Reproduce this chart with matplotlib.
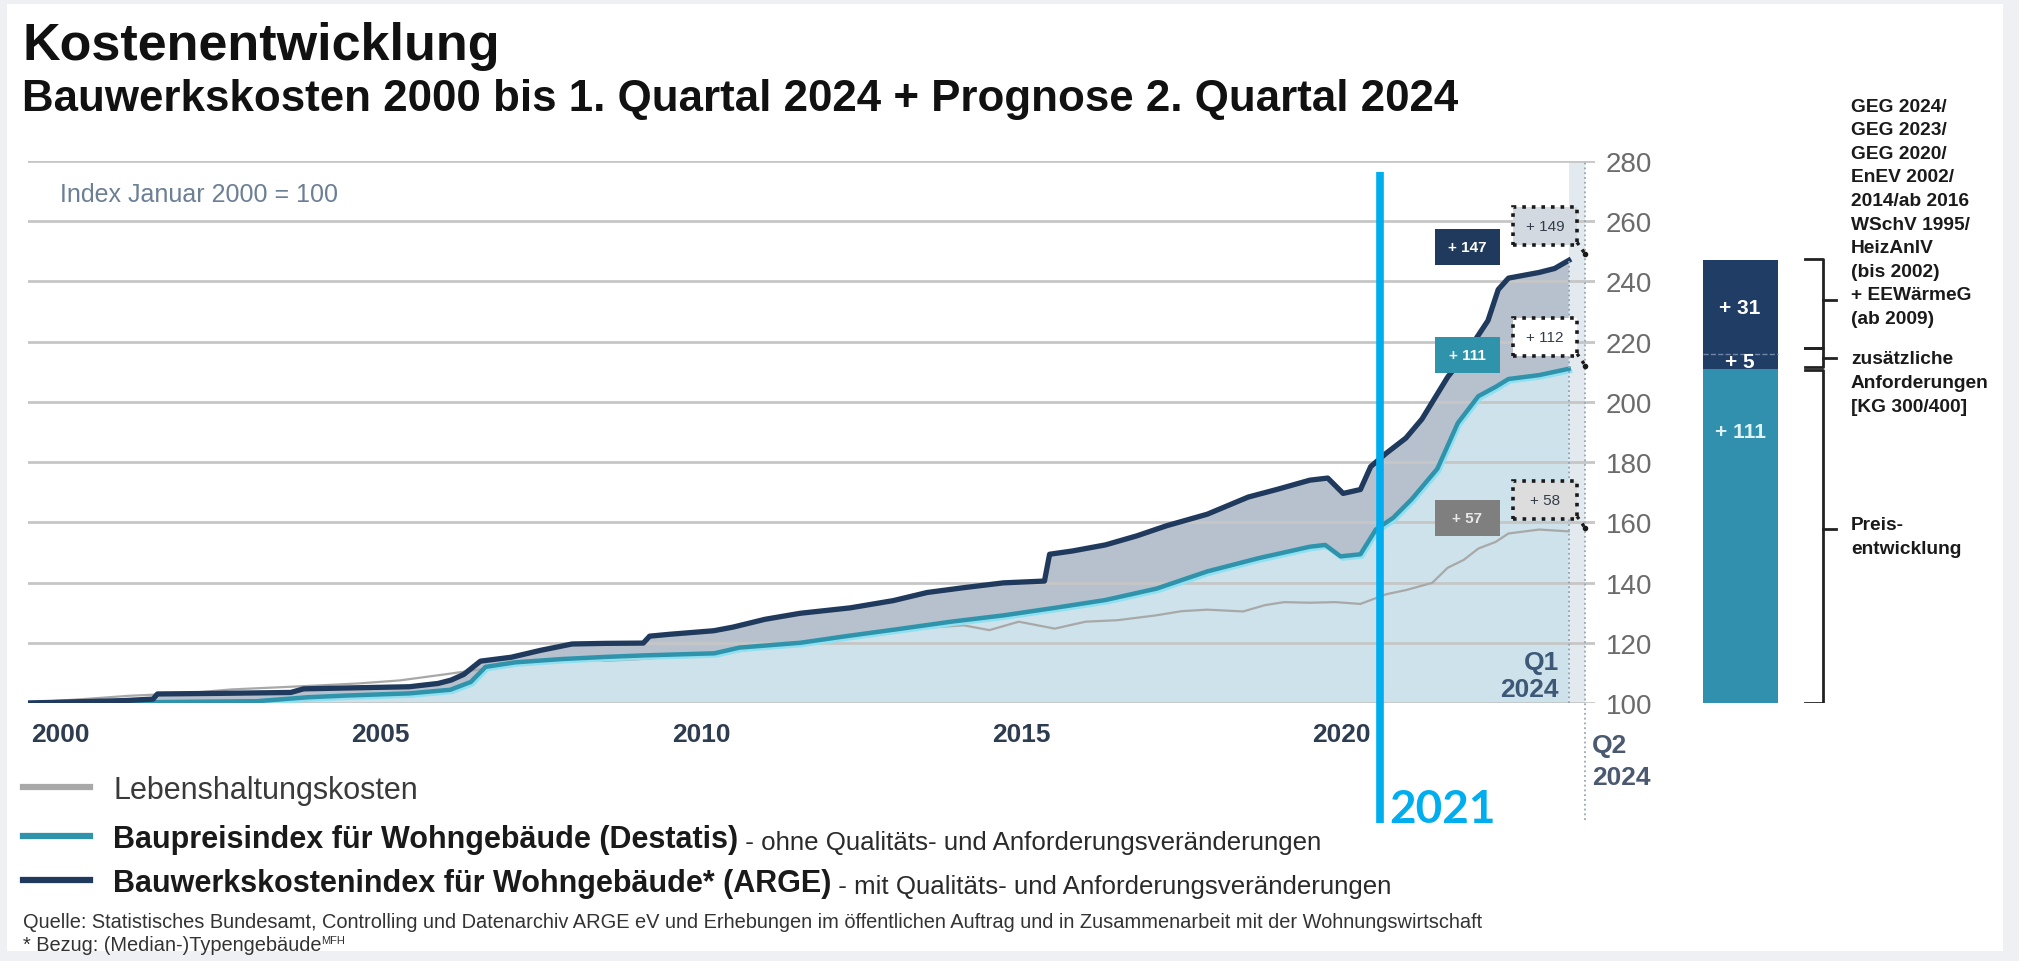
import numpy as np
import matplotlib.pyplot as plt
from matplotlib.patches import Rectangle

# Schrift
plt.rcParams['font.family'] = ['Liberation Sans', 'DejaVu Sans']

# Bauwerkskostenindex (ARGE)
t_arge = [2000.0, 2001.5, 2001.95, 2002.02, 2003.0, 2004.1, 2004.3, 2005.0, 2005.95,
          2006.4, 2006.6, 2006.8, 2007.06, 2007.54, 2008.0, 2008.49, 2009.0, 2009.6,
          2009.7, 2010.0, 2010.7, 2011.0, 2011.5, 2012.05, 2012.83, 2013.5, 2014.03,
          2014.6, 2015.22, 2015.86, 2015.94, 2016.3, 2016.81, 2017.3, 2017.77, 2018.4,
          2019.04, 2019.5, 2020.0, 2020.28, 2020.52, 2020.79, 2020.95, 2021.19, 2021.5,
          2021.75, 2022.15, 2022.47, 2022.78, 2022.94, 2023.1, 2023.58, 2023.82, 2024.04]
v_arge = [100, 100.8, 101.3, 103.0, 103.2, 103.5, 104.7, 105.0, 105.4,
          106.5, 107.6, 109.5, 113.9, 115.2, 117.5, 119.6, 119.8, 119.9,
          122.2, 122.8, 124.0, 125.2, 127.8, 129.8, 131.6, 134.0, 136.7,
          138.3, 139.9, 140.5, 149.4, 150.5, 152.5, 155.5, 158.9, 162.7,
          168.4, 171.0, 174.0, 174.7, 169.6, 170.9, 178.5, 182.9, 188.0,
          194.3, 208.2, 217.0, 227.0, 237.3, 241.1, 243.0, 244.3, 247.0]

# Baupreisindex (Destatis)
t_destatis = [2000.0, 2002.0, 2003.57, 2004.36, 2005.0, 2005.95, 2006.59, 2006.91, 2007.14,
              2007.6, 2008.33, 2009.0, 2009.6, 2010.71, 2011.1, 2012.05, 2012.8, 2013.63,
              2014.4, 2015.22, 2016.02, 2016.81, 2017.61, 2018.4, 2019.2, 2020.0, 2020.24,
              2020.48, 2020.79, 2021.03, 2021.3, 2021.59, 2021.99, 2022.31, 2022.63, 2022.9,
              2023.1, 2023.58, 2024.04]
v_destatis = [100, 100.3, 100.6, 101.9, 102.5, 103.2, 104.4, 107.0, 112.0,
              113.5, 114.6, 115.3, 115.8, 116.5, 118.4, 120.0, 122.3, 124.7,
              127.0, 129.1, 131.6, 134.2, 138.0, 143.7, 148.1, 151.9, 152.5,
              148.7, 149.4, 157.6, 161.5, 167.7, 177.8, 193.0, 201.9, 205.0,
              207.6, 208.9, 211.0]

# Lebenshaltungskosten
t_lhk = [2000.0, 2000.5, 2001.0, 2001.58, 2002.0, 2002.5, 2003.17, 2004.0, 2004.5, 2005.16,
         2005.8, 2006.5, 2007.0, 2007.5, 2008.0, 2008.6, 2009.0, 2009.5, 2010.0, 2010.7,
         2011.5, 2012.04, 2012.8, 2013.5, 2014.03, 2014.6, 2015.0, 2015.46, 2016.02, 2016.5,
         2017.0, 2017.6, 2018.0, 2018.4, 2018.96, 2019.3, 2019.6, 2020.0, 2020.4, 2020.79,
         2021.19, 2021.5, 2021.91, 2022.15, 2022.4, 2022.63, 2022.9, 2023.1, 2023.58, 2024.04]
v_lhk = [100, 100.8, 101.5, 102.4, 102.8, 103.3, 104.5, 105.3, 105.8, 106.5,
         107.5, 109.5, 111.0, 112.5, 113.5, 115.0, 114.0, 114.5, 115.3, 116.0,
         118.5, 119.5, 121.5, 123.5, 125.0, 125.8, 124.2, 127.0, 124.7, 127.0,
         127.5, 129.1, 130.5, 131.0, 130.4, 132.5, 133.5, 133.3, 133.5, 132.9,
         136.1, 137.5, 139.9, 144.9, 147.5, 151.3, 153.5, 156.3, 157.6, 157.0]

# Prognose 2. Quartal 2024
q1 = 2024.04
q2 = 2024.3
prog_arge = 249
prog_destatis = 212
prog_lhk = 158

label_q1 = ['+ 147', '+ 111', '+ 57']
label_q2 = ['+ 149', '+ 112', '+ 58']

# Balken rechts
bar_parts = [111, 5, 31]
bar_labels = ['+ 111', '+ 5', '+ 31']

yticks = list(range(100, 281, 20))
year_ticks = [2000, 2005, 2010, 2015, 2020]

geg_text = ['GEG 2024/', 'GEG 2023/', 'GEG 2020/', 'EnEV 2002/', '2014/ab 2016',
            'WSchV 1995/', 'HeizAnlV', '(bis 2002)', '+ EEWärmeG', '(ab 2009)']
zus_text = ['zusätzliche', 'Anforderungen', '[KG 300/400]']
preis_text = ['Preis-', 'entwicklung']

# Farben
navy = '#1f3a5c'
teal = '#2e93ab'
grau = '#a8a8a8'

W, H = 2019, 962
fx = lambda px: px / W
fy = lambda py: 1 - py / H

fig = plt.figure(figsize=(W / 100, H / 100), dpi=100, facecolor='#eef0f3')
fig.add_artist(Rectangle((fx(7), fy(952)), fx(2003) - fx(7), fy(5) - fy(952),
                         transform=fig.transFigure, facecolor='white', edgecolor='none', zorder=-10))

ax = fig.add_axes([fx(28), fy(704), fx(1595) - fx(28), fy(162) - fy(704)])
ax.set_facecolor('none')
ax.set_xlim(2000, 2024.45)
ax.set_ylim(100, 280)

# Flaechen
ax.axvspan(q1, q2, ymax=1, color='#e2eaf0', zorder=0.3, lw=0)
ax.fill(t_destatis + [q1], v_destatis + [100], color='#cde2ea', lw=0, zorder=0.5)
ax.fill(t_arge + t_destatis[::-1], v_arge + v_destatis[::-1], color='#b7c0cd', lw=0, zorder=0.6)

# Linien
ax.plot(t_lhk, v_lhk, color=grau, lw=1.6, zorder=2)
ax.plot(np.array(t_destatis) + 0.03, np.array(v_destatis) - 0.9, color='#8fe0f0', lw=2.5, zorder=2.1)
ax.plot(t_destatis, v_destatis, color=teal, lw=3.2, zorder=2.2)
ax.plot(t_arge, v_arge, color=navy, lw=3.8, zorder=2.3)

# Q1 / Q2 Linien
ax.plot([q1, q1], [100, v_arge[-1]], ls=':', color='#8da2b8', lw=1.3, zorder=2.5)
ax.plot([q2, q2], [61, 280], ls=':', color='#9aa6b2', lw=1.3, zorder=2.5, clip_on=False)

# Boxen mit Zuwachs
box_col = [navy, teal, '#7f7f7f']
q2_fill = ['#d3d9e1', 'white', '#dddddd']
ends = [v_arge[-1], v_destatis[-1], v_lhk[-1]]
progs = [prog_arge, prog_destatis, prog_lhk]
for i in range(3):
    yc = ends[i] + 4.5
    ax.add_patch(Rectangle((2021.95, yc - 6), 1.02, 12, facecolor=box_col[i], edgecolor='none', zorder=4))
    ax.text(2022.46, yc, label_q1[i], ha='center', va='center', color='white' if i < 2 else '#e8e8e8',
            fontsize=11, fontweight='bold', zorder=5)
    yd = progs[i] + 9.5
    ax.add_patch(Rectangle((2023.17, yd - 6.3), 1.0, 12.6, facecolor=q2_fill[i], edgecolor='#1a1a1a',
                           ls=':', lw=2.6, zorder=4, clip_on=False))
    ax.text(2023.67, yd, label_q2[i], ha='center', va='center', color='#333d4a', fontsize=11, zorder=5)
    ax.plot([2024.17, q2], [yd - 5.5, progs[i]], ls=':', color='#1a1a1a', lw=2.4, zorder=4, clip_on=False)
    ax.plot([q2], [progs[i]], 'o', color='#1a1a1a', ms=3, zorder=4, clip_on=False)

ax.text(2000.5, 269, 'Index Januar 2000 = 100', color='#6b7f95', fontsize=18, va='center')
ax.text(q1 - 0.15, 113.5, 'Q1', color='#3e5878', fontsize=19, fontweight='bold', ha='right', va='center')
ax.text(q1 - 0.15, 104.5, '2024', color='#3e5878', fontsize=19, fontweight='bold', ha='right', va='center')
ax.text(q2 + 0.1, 86, 'Q2', color='#4a5870', fontsize=19, fontweight='bold', ha='left', va='center',
        clip_on=False)
ax.text(q2 + 0.1, 75.5, '2024', color='#4a5870', fontsize=19, fontweight='bold', ha='left', va='center',
        clip_on=False)

# Achsen
ax.yaxis.tick_right()
ax.set_yticks(yticks)
ax.tick_params(axis='y', length=0, pad=8, labelsize=20, labelcolor='#6b6b6b')
ax.grid(axis='y', color='#c6c6c6', lw=2)
ax.set_xticks([y + 0.5 for y in year_ticks], [str(y) for y in year_ticks])
ax.tick_params(axis='x', length=0, pad=14, labelsize=19, labelcolor='#2e3c4f')
for lbl in ax.get_xticklabels():
    lbl.set_fontweight('bold')
for s in ax.spines.values():
    s.set_visible(False)

# 2021 Markierung
ax.plot([2021.1, 2021.1], [60.2, 276.4], color='#00aeef', lw=5.5, solid_capstyle='butt',
        zorder=10, clip_on=False)
ax.text(2021.24, 60.6, '2021', family=['Lato', 'DejaVu Sans'], fontweight='bold', fontsize=33,
        color='#00aeef', va='baseline', ha='left', zorder=10)

# Balken rechts
axb = fig.add_axes([fx(1690), fy(704), fx(2019) - fx(1690), fy(162) - fy(704)])
axb.set_xlim(0, 329)
axb.set_ylim(100, 280)
axb.axis('off')
bottoms = np.cumsum([100] + bar_parts[:-1])
bar_cols = ['#3190ad', '#203d66', '#203d66']
axb.bar([50] * 3, bar_parts, bottom=bottoms, width=75, color=bar_cols, lw=0)
axb.plot([13, 88], [bottoms[2], bottoms[2]], color='#6f86a6', lw=1, ls='--')
label_y = [bottoms[1] - 21, bottoms[1] + bar_parts[1] / 2, bottoms[2] + bar_parts[2] / 2]
for lab, yy, c in zip(bar_labels, label_y, ['#dff3f7', 'white', 'white']):
    axb.text(50, yy, lab, ha='center', va='center', color=c, fontsize=15, fontweight='bold')


def bracket(y0, y1, ym):
    axb.plot([115, 133, 133, 115], [y0, y0, y1, y1], color='#222222', lw=2, solid_joinstyle='round')
    axb.plot([133, 146], [ym, ym], color='#222222', lw=2)


top = bottoms[2] + bar_parts[2]
bracket(top + 0.5, bottoms[2] + 2, 234)
bracket(bottoms[2] + 2, bottoms[1] + 0.5, bottoms[1] + 3.5)
bracket(bottoms[1] - 0.5, 100, 157.8)

for i, s in enumerate(geg_text):
    fig.text(fx(1851), fy(107 + i * 23.6), s, fontsize=13.8, fontweight='bold', color='#1a1a1a', va='center')
for i, s in enumerate(zus_text):
    fig.text(fx(1851), fy(360 + i * 24), s, fontsize=13.8, fontweight='bold', color='#1a1a1a', va='center')
for i, s in enumerate(preis_text):
    fig.text(fx(1851), fy(526 + i * 24), s, fontsize=13.8, fontweight='bold', color='#1a1a1a', va='center')

# Titel
fig.text(fx(22), fy(60), 'Kostenentwicklung', fontsize=37.5, fontweight='bold', color='#111111',
         va='baseline')
fig.text(fx(22), fy(111), 'Bauwerkskosten 2000 bis 1. Quartal 2024 + Prognose 2. Quartal 2024',
         fontsize=31.6, fontweight='bold', color='#111111', va='baseline')

# Legende
leg = [(grau, 'Lebenshaltungskosten', '', 788),
       (teal, 'Baupreisindex für Wohngebäude (Destatis)', ' - ohne Qualitäts- und Anforderungsveränderungen', 837),
       (navy, 'Bauwerkskostenindex für Wohngebäude* (ARGE)', ' - mit Qualitäts- und Anforderungsveränderungen', 881)]
for col, main, rest, py in leg:
    fig.add_artist(plt.Line2D([fx(23), fx(90)], [fy(py), fy(py)], color=col, lw=4.5,
                              transform=fig.transFigure))
    if rest:
        t1 = fig.text(fx(113), fy(py), main, fontsize=22, fontweight='bold', color='#1a1a1a',
                      va='center_baseline')
        plt.annotate(rest, xy=(1, 0), xycoords=t1, va='bottom', fontsize=18.6, color='#2a2a2a')
    else:
        fig.text(fx(113), fy(py), main, fontsize=22, color='#3a3a3a', va='center_baseline')

fig.text(fx(23), fy(923), 'Quelle: Statistisches Bundesamt, Controlling und Datenarchiv ARGE eV und Erhebungen '
         'im öffentlichen Auftrag und in Zusammenarbeit mit der Wohnungswirtschaft',
         fontsize=14.4, color='#333333', va='center')
t_bez = fig.text(fx(23), fy(946), '* Bezug: (Median-)Typengebäude', fontsize=14.4, color='#333333', va='center')
plt.annotate('MFH', xy=(1, 1), xycoords=t_bez, va='top', fontsize=8, color='#333333')

fig.savefig('out.png', dpi=100)
